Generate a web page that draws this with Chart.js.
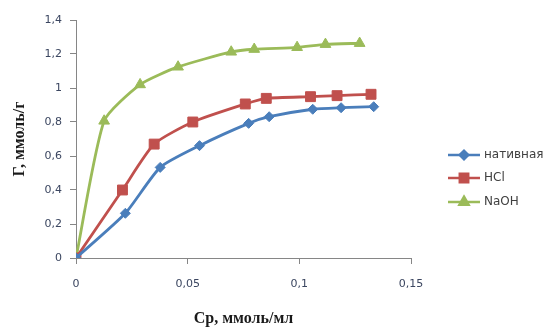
<!DOCTYPE html>
<html>
<head>
<meta charset="utf-8">
<script src="https://cdn.jsdelivr.net/npm/chart.js@4"></script>
<style>
  body { margin: 0; background: #fff; }
  #wrap { width: 545px; height: 329px; }
</style>
</head>
<body>
<div id="wrap"><canvas id="isoChart" width="545" height="329"></canvas></div>
<script>
// Data
const seriesNames = ["нативная", "HCl", "NaOH"];

const nativX = [0, 0.0221, 0.0377, 0.0553, 0.0773, 0.0865, 0.106, 0.1187, 0.1333];
const nativY = [0, 0.263, 0.533, 0.661, 0.792, 0.831, 0.875, 0.884, 0.89];

const hclX = [0, 0.0208, 0.035, 0.0523, 0.0758, 0.0852, 0.105, 0.1169, 0.1321];
const hclY = [0, 0.4, 0.67, 0.80, 0.906, 0.939, 0.949, 0.955, 0.963];

const naohX = [0, 0.0126, 0.0287, 0.0457, 0.0695, 0.0798, 0.099, 0.1117, 0.127];
const naohY = [0, 0.806, 1.02, 1.124, 1.212, 1.228, 1.239, 1.257, 1.263];

const xTicks = [0, 0.05, 0.1, 0.15];
const yTicks = [0, 0.2, 0.4, 0.6, 0.8, 1, 1.2, 1.4];

function toPoints(xs, ys) {
  return xs.map((x, i) => ({ x: x, y: ys[i] }));
}

function fmt(v) {
  return String(+v.toFixed(2)).replace(".", ",");
}

const colors = ["#4a7ebb", "#c0504d", "#9bbb59"];
const markers = ["rectRot", "rect", "triangle"];
const markerSizes = [5, 7, 6.2];

// legend like the Excel one: line + marker + text
const sideLegend = {
  id: "sideLegend",
  afterDraw(chart) {
    const ctx = chart.ctx;
    const rows = [155, 178, 202];
    ctx.save();
    chart.data.datasets.forEach((ds, i) => {
      const y = rows[i];
      ctx.strokeStyle = ds.borderColor;
      ctx.lineWidth = 2.5;
      ctx.beginPath();
      ctx.moveTo(448, y);
      ctx.lineTo(480, y);
      ctx.stroke();
      ctx.fillStyle = ds.backgroundColor;
      Chart.helpers.drawPoint(ctx, {
        pointStyle: ds.pointStyle,
        radius: ds.pointRadius * 0.85,
        rotation: 0,
        borderWidth: 1
      }, 464, y);
      ctx.fillStyle = "#404040";
      ctx.font = "12px 'DejaVu Sans', sans-serif";
      ctx.textBaseline = "middle";
      ctx.fillText(ds.label, 484, y);
    });
    ctx.restore();
  }
};

const ctx = document.getElementById("isoChart").getContext("2d");

const isoChart = new Chart(ctx, {
  type: "line",
  data: {
    datasets: [
      { label: seriesNames[0], data: toPoints(nativX, nativY) },
      { label: seriesNames[1], data: toPoints(hclX, hclY) },
      { label: seriesNames[2], data: toPoints(naohX, naohY) }
    ].map((ds, i) => Object.assign(ds, {
      borderColor: colors[i],
      backgroundColor: colors[i],
      borderWidth: 2.8,
      pointStyle: markers[i],
      pointRadius: markerSizes[i],
      pointBorderWidth: 1,
      tension: 0.2,
      fill: false
    }))
  },
  options: {
    responsive: false,
    animation: false,
    layout: { padding: { top: 20, right: 134, left: 0, bottom: 0 } },
    plugins: {
      legend: { display: false },
      tooltip: { enabled: false }
    },
    scales: {
      x: {
        type: "linear",
        min: 0,
        max: 0.15,
        afterBuildTicks: (s) => { s.ticks = xTicks.map(v => ({ value: v })); },
        afterFit: (s) => { s.height = 71; },
        border: { color: "#868686", width: 1 },
        grid: { drawOnChartArea: false, tickLength: 6, color: "#868686" },
        ticks: {
          padding: 14,
          color: "#3b4660",
          font: { family: "'DejaVu Sans', sans-serif", size: 11 },
          callback: (v) => fmt(v)
        },
        title: {
          display: true,
          text: "Cр, ммоль/мл",
          color: "#1a1a1a",
          font: { family: "'Liberation Serif', serif", size: 16, weight: "bold" },
          padding: { top: 0, bottom: 1 }
        }
      },
      y: {
        min: 0,
        max: 1.4,
        afterBuildTicks: (s) => { s.ticks = yTicks.map(v => ({ value: v })); },
        afterFit: (s) => { s.width = 76; },
        border: { color: "#868686", width: 1 },
        grid: { drawOnChartArea: false, tickLength: 6, color: "#868686" },
        ticks: {
          padding: 8,
          color: "#3b4660",
          font: { family: "'DejaVu Sans', sans-serif", size: 11 },
          callback: (v) => fmt(v)
        },
        title: {
          display: true,
          text: "Г, ммоль/г",
          color: "#1a1a1a",
          font: { family: "'Liberation Serif', serif", size: 16, weight: "bold" },
          padding: { top: 10, bottom: 0 }
        }
      }
    }
  },
  plugins: [sideLegend]
});
</script>
</body>
</html>
